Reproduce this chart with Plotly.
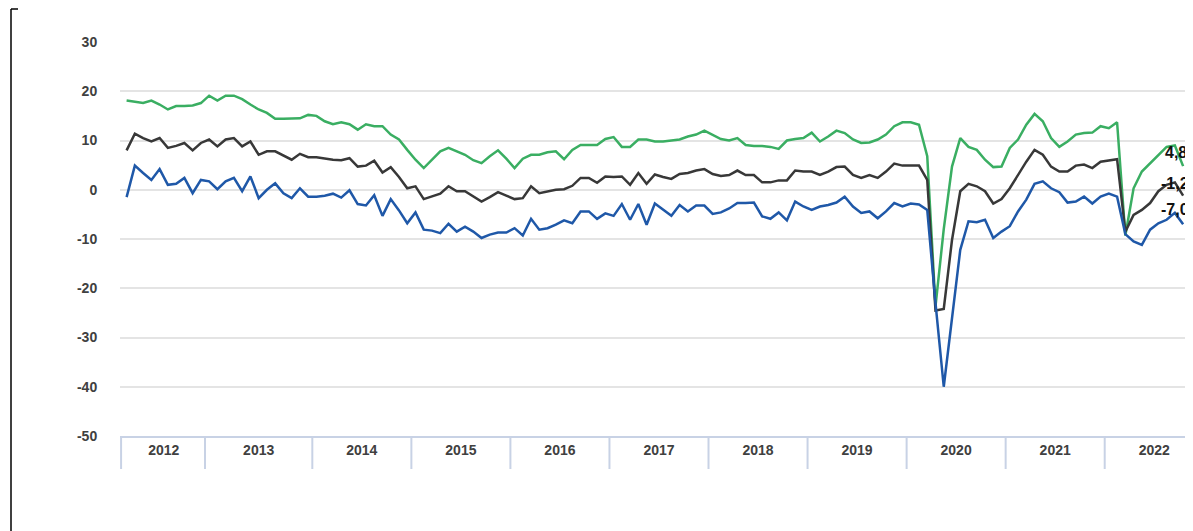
import plotly.graph_objects as go

# ---- data ----
years = ["2012", "2013", "2014", "2015", "2016", "2017", "2018", "2019", "2020", "2021", "2022"]
# number of category slots per year on the axis (2022 slot keeps its full year width)
slots_per_year = [10, 13, 12, 12, 12, 12, 12, 12, 12, 12, 12]

green = [
    18.1, 17.9, 17.6, 18.1, 17.3, 16.3, 17.0, 17.0, 17.1, 17.6,
    19.1, 18.1, 19.1, 19.1, 18.4, 17.3, 16.3, 15.6, 14.4, 14.4, 14.4, 14.5, 15.2,
    15.0, 13.9, 13.3, 13.7, 13.3, 12.2, 13.3, 12.9, 12.9, 11.2, 10.2, 8.1,
    6.1, 4.4, 6.1, 7.8, 8.5, 7.8, 7.1, 6.0, 5.4, 6.8, 8.0, 6.3,
    4.4, 6.3, 7.1, 7.1, 7.6, 7.8, 6.2, 8.1, 9.1, 9.1, 9.1, 10.3,
    10.7, 8.7, 8.7, 10.2, 10.2, 9.8, 9.8, 10.0, 10.2, 10.8, 11.2, 12.0,
    11.2, 10.3, 10.0, 10.5, 9.1, 8.9, 8.9, 8.7, 8.3, 10.0, 10.3, 10.5,
    11.6, 9.8, 10.8, 12.0, 11.5, 10.2, 9.5, 9.6, 10.2, 11.2, 12.9, 13.7,
    13.7, 13.2, 6.8, -23.7, -8.0, 4.7, 10.5, 8.7, 8.1, 6.1, 4.6, 4.7,
    8.5, 10.2, 13.2, 15.4, 13.9, 10.5, 8.7, 9.8, 11.2, 11.5, 11.6, 12.9,
    12.5, 13.7, -9.3, 0.3, 3.7, 5.4, 7.1, 8.7, 9.0, 4.8,
]
black = [
    8.0, 11.4, 10.5, 9.8, 10.5, 8.5, 8.9, 9.5, 8.0, 9.5,
    10.2, 8.8, 10.2, 10.5, 8.8, 9.8, 7.1, 7.8, 7.8, 6.9, 6.1, 7.3, 6.6,
    6.6, 6.3, 6.1, 6.0, 6.4, 4.7, 4.9, 5.9, 3.5, 4.6, 2.6, 0.3,
    0.7, -1.9, -1.4, -0.8, 0.7, -0.3, -0.3, -1.4, -2.4, -1.5, -0.5, -1.2,
    -1.9, -1.7, 0.7, -0.7, -0.3, 0.0, 0.1, 0.8, 2.4, 2.4, 1.4, 2.7,
    2.6, 2.7, 1.0, 3.4, 1.2, 3.1, 2.6, 2.2, 3.2, 3.4, 3.9, 4.2,
    3.2, 2.8, 3.0, 3.9, 3.0, 3.0, 1.5, 1.5, 1.9, 1.9, 3.9, 3.7,
    3.7, 3.0, 3.7, 4.6, 4.7, 3.0, 2.4, 3.0, 2.4, 3.7, 5.3, 4.9,
    4.9, 4.9, 2.0, -24.5, -24.2, -10.2, -0.3, 1.2, 0.7, -0.3, -2.8, -1.9,
    0.3, 3.0, 5.7, 8.1, 7.1, 4.7, 3.7, 3.7, 4.9, 5.1, 4.4, 5.7,
    5.9, 6.2, -8.5, -5.1, -4.1, -2.7, -0.3, 1.0, 1.5, -1.2,
]
blue = [
    -1.5, 4.9, 3.4, 2.0, 4.2, 1.0, 1.2, 2.4, -0.7, 2.0,
    1.7, 0.1, 1.7, 2.4, -0.3, 2.7, -1.7, 0.0, 1.3, -0.7, -1.7, 0.3, -1.4,
    -1.4, -1.2, -0.8, -1.6, -0.1, -2.9, -3.2, -1.1, -5.3, -1.9, -4.2, -6.8,
    -4.6, -8.1, -8.3, -8.8, -6.9, -8.5, -7.5, -8.5, -9.8, -9.1, -8.7, -8.7,
    -7.8, -9.3, -5.9, -8.1, -7.8, -7.1, -6.2, -6.8, -4.4, -4.4, -5.9, -4.8,
    -5.3, -2.9, -6.1, -2.9, -7.1, -2.8, -4.1, -5.3, -3.1, -4.4, -3.2, -3.2,
    -4.9, -4.6, -3.8, -2.7, -2.7, -2.6, -5.4, -5.9, -4.6, -6.2, -2.4, -3.4,
    -4.1, -3.4, -3.1, -2.6, -1.4, -3.4, -4.7, -4.4, -5.8, -4.4, -2.7, -3.4,
    -2.8, -3.0, -4.1, -23.0, -40.0, -26.0, -12.2, -6.4, -6.6, -6.1, -9.8, -8.5,
    -7.4, -4.4, -2.0, 1.2, 1.7, 0.3, -0.5, -2.6, -2.4, -1.4, -2.8, -1.4,
    -0.8, -1.4, -9.0, -10.5, -11.2, -8.1, -6.8, -6.1, -4.7, -7.0,
]
end_labels = ["4,8", "-1,2", "-7,0"]
y_ticks = [30, 20, 10, 0, -10, -20, -30, -40, -50]

# ---- styling ----
GREEN = "#3aae62"
BLACK = "#383838"
BLUE = "#1f58a8"
GRID = "#e4e4e4"
AXIS_BOX = "#c8d2e5"
LABEL = "#404040"
FONT = "Liberation Sans, Arial, sans-serif"

ML, MR, MT, MB = 112, 0, 34, 103
W, H = 1193, 531
PX_PER_SLOT = 8.254
plot_w = W - ML - MR
plot_h = H - MT - MB

x = list(range(len(green)))

fig = go.Figure()
for vals, col in [(green, GREEN), (black, BLACK), (blue, BLUE)]:
    fig.add_trace(go.Scatter(x=x, y=vals, mode="lines",
                             line=dict(color=col, width=2.5),
                             hoverinfo="skip", showlegend=False))

# year bands: boundaries and centers from slot counts
bounds = [-0.5]
for c in slots_per_year:
    bounds.append(bounds[-1] + c)
centers = [(bounds[k] + bounds[k + 1]) / 2 for k in range(len(years))]

box_depth = 33 / plot_h
shapes = []
for b in bounds[1:-1]:
    shapes.append(dict(type="line", xref="x", yref="paper", x0=b, x1=b, y0=0, y1=-box_depth,
                       line=dict(color=AXIS_BOX, width=2)))
shapes.append(dict(type="line", xref="paper", yref="paper", x0=0.001, x1=0.001, y0=0, y1=-box_depth,
                   line=dict(color=AXIS_BOX, width=2)))
# left frame of the cropped screenshot
fx = -109 / plot_w
shapes.append(dict(type="line", xref="paper", yref="paper", x0=fx, x1=fx,
                   y0=(plot_h + MT - 1) / plot_h, y1=-(MB + 5) / plot_h,
                   line=dict(color="#000000", width=1.5)))
shapes.append(dict(type="line", xref="paper", yref="paper", x0=fx, x1=fx + 7 / plot_w,
                   y0=(plot_h + MT - 1) / plot_h, y1=(plot_h + MT - 1) / plot_h,
                   line=dict(color="#000000", width=1.5)))

annotations = []
last = len(green) - 1
for vals, txt, ys, xs in [(green, end_labels[0], 14, -20), (black, end_labels[1], 12, -24),
                          (blue, end_labels[2], 15, -24)]:
    annotations.append(dict(x=last, y=vals[last], xref="x", yref="y", text="<b>" + txt + "</b>",
                            showarrow=False, xanchor="left", yanchor="middle",
                            xshift=xs, yshift=ys,
                            font=dict(family=FONT, size=16, color="#111111")))

fig.update_layout(
    width=W, height=H,
    margin=dict(l=ML, r=MR, t=MT, b=MB),
    paper_bgcolor="white", plot_bgcolor="white",
    showlegend=False,
    shapes=shapes, annotations=annotations,
    xaxis=dict(range=[-0.8, -0.8 + plot_w / PX_PER_SLOT], showgrid=False, zeroline=False,
               showline=True, linecolor=AXIS_BOX, linewidth=2,
               tickvals=centers, ticktext=["<b>" + y + "</b>" for y in years],
               ticks="",
               tickfont=dict(family=FONT, size=14, color=LABEL)),
    yaxis=dict(range=[-50, 30], tickvals=y_ticks,
               ticktext=["<b>" + str(v) + "</b>" for v in y_ticks],
               showgrid=True, gridcolor=GRID, gridwidth=2, zeroline=False,
               showline=False, ticks="outside", ticklen=19, tickcolor="rgba(0,0,0,0)",
               tickfont=dict(family=FONT, size=14, color=LABEL)),
)

fig.write_html("out.html")
